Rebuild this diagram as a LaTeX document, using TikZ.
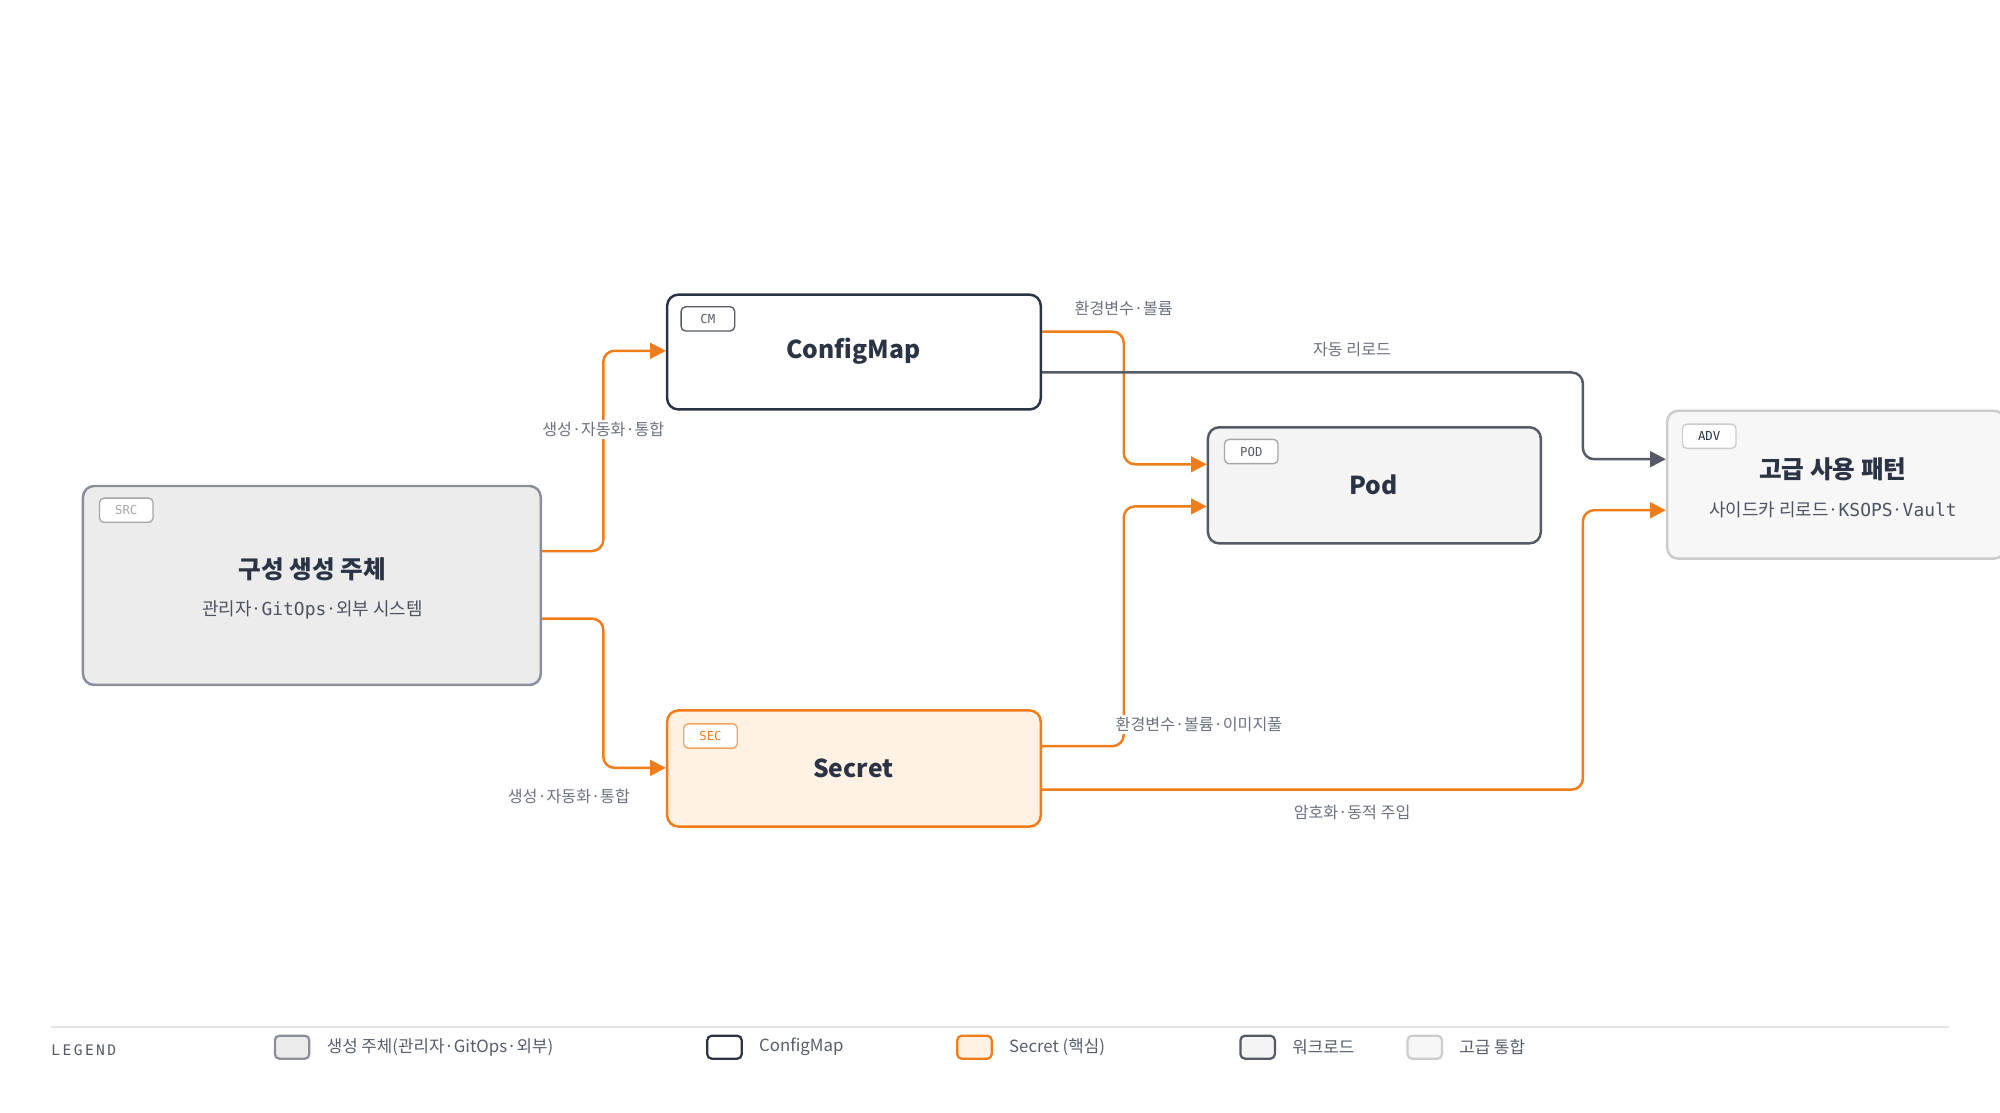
\documentclass[tikz,border=0pt]{standalone}
\usepackage{fontspec}
\setmainfont{Noto Sans CJK KR}
\newfontfamily\monofont{DejaVu Sans Mono}
\usetikzlibrary{arrows.meta,calc}
\definecolor{orng}{HTML}{F07C1A}
\definecolor{ink}{HTML}{2B3445}
\definecolor{slate}{HTML}{555B66}
\definecolor{mute}{HTML}{6B7280}
\tikzset{
  box/.style={draw,rounded corners=5pt,line width=1.1pt,inner sep=0pt},
  tag/.style={draw=#1,rounded corners=2pt,line width=0.6pt,fill=white,text=#1,
    font=\monofont\fontsize{5.5}{6}\selectfont,minimum width=0.84cm,minimum height=0.38cm,inner sep=1pt},
  ttl/.style={font=\bfseries\fontsize{11}{13}\selectfont,text=ink},
  sub/.style={font=\fontsize{8}{10}\selectfont,text=ink!85},
  lbl/.style={font=\fontsize{7.2}{9}\selectfont,text=mute,fill=white,inner sep=1pt},
  flow/.style={draw=orng,line width=1.1pt,rounded corners=5pt,-{Triangle[length=7pt,width=7pt]}},
  grayflow/.style={flow,draw=slate},
  swatch/.style={draw=#1,rounded corners=2pt,line width=1pt,minimum width=0.54cm,minimum height=0.36cm,inner sep=0pt},
  key/.style={anchor=west,font=\fontsize{7.5}{9}\selectfont,text=ink!80}
}
\begin{document}
\begin{tikzpicture}[x=0.02cm,y=-0.02cm]
  \useasboundingbox (0,0) rectangle (1568,872);

  % boxes
  \node[box,draw=mute!80,fill=gray!15,minimum width=7.18cm,minimum height=3.12cm] (src) at (244.5,459) {};
  \node[box,draw=ink,fill=white,minimum width=5.86cm,minimum height=1.8cm] (cm) at (669.5,276) {};
  \node[box,draw=orng,fill=orange!10,minimum width=5.86cm,minimum height=1.82cm] (sec) at (669.5,602.5) {};
  \node[box,draw=slate,fill=gray!9,minimum width=5.22cm,minimum height=1.82cm] (pod) at (1077.5,380.5) {};
  \node[box,draw=gray!40,fill=gray!6,minimum width=5.3cm,minimum height=2.32cm] (adv) at (1439.5,380) {};

  % tags
  \node[tag=gray!70] (srctag) at (99,400) {SRC};
  \node[tag=slate] (cmtag) at (555,250) {CM};
  \node[tag=orng!70] (sectag) at (557,577) {\textcolor{orng}{SEC}};
  \node[tag=gray!70] (podtag) at (981,354) {\textcolor{slate}{POD}};
  \node[tag=gray!40] (advtag) at (1340,342) {\textcolor{ink}{ADV}};

  % titles
  \node[ttl] (srcttl) at (245,446) {구성 생성 주체};
  \node[sub] (srcsub) at (245,478) {관리자·{\monofont GitOps}·외부 시스템};
  \node[ttl] (cmttl) at (669,275) {ConfigMap};
  \node[ttl] (secttl) at (669,602) {Secret};
  \node[ttl] (podttl) at (1077,380) {Pod};
  \node[ttl] (advttl) at (1437,368) {고급 사용 패턴};
  \node[sub] (advsub) at (1437,400) {사이드카 리로드·{\monofont KSOPS}·{\monofont Vault}};

  % connectors
  \draw[flow] (src.east |- 0,432) -| (473,275) -- (cm.west |- 0,275);
  \draw[flow] (src.east |- 0,485) -| (473,602) -- (sec.west |- 0,602);
  \draw[flow] (cm.east |- 0,260) -| (881,364) -- (pod.west |- 0,364);
  \draw[grayflow] (cm.east |- 0,292) -| (1241,360) -- (adv.west |- 0,360);
  \draw[flow] (sec.east |- 0,585) -| (881,397) -- (pod.west |- 0,397);
  \draw[flow] (sec.east |- 0,619) -| (1241,400) -- (adv.west |- 0,400);

  % labels
  \node[lbl] (l1) at (473,337) {생성·자동화·통합};
  \node[lbl] (l2) at (446,624) {생성·자동화·통합};
  \node[lbl] (l3) at (881,242) {환경변수·볼륨};
  \node[lbl] (l4) at (1060,274) {자동 리로드};
  \node[lbl] (l5) at (940,568) {환경변수·볼륨·이미지풀};
  \node[lbl] (l6) at (1060,637) {암호화·동적 주입};

  % legend
  \draw[gray!20,line width=0.8pt] (40,805) -- (1528,805);
  \node[anchor=west,inner sep=0pt,font=\monofont\fontsize{6.5}{8}\selectfont,text=slate] (leg) at (40,823) {L\,E\,G\,E\,N\,D};
  \node[swatch=mute!80,fill=gray!15] (k1) at (229,821) {};
  \node[key] at (250,821) {생성 주체(관리자·GitOps·외부)};
  \node[swatch=ink,fill=white] (k2) at (568,821) {};
  \node[key] at (589,821) {ConfigMap};
  \node[swatch=orng,fill=orange!10] (k3) at (764,821) {};
  \node[key] at (785,821) {Secret (핵심)};
  \node[swatch=slate,fill=gray!9] (k4) at (986,821) {};
  \node[key] at (1007,821) {워크로드};
  \node[swatch=gray!40,fill=gray!6] (k5) at (1117,821) {};
  \node[key] at (1138,821) {고급 통합};
\end{tikzpicture}
\end{document}
